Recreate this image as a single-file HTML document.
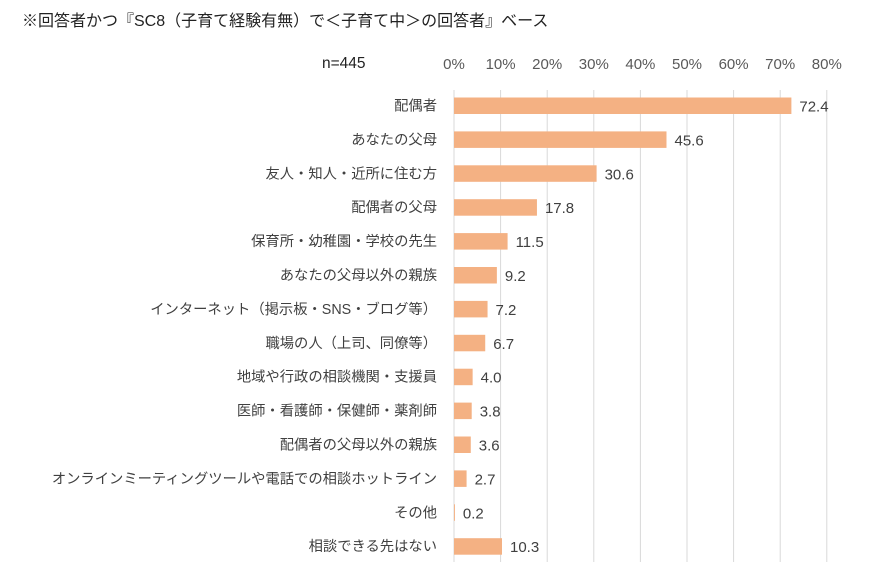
<!DOCTYPE html>
<html><head><meta charset="utf-8"><style>
body{margin:0;background:#fff;width:876px;height:576px;overflow:hidden;font-family:"Liberation Sans","Noto Sans CJK JP",sans-serif;color:#404040}
svg text{font-family:"Liberation Sans","Noto Sans CJK JP",sans-serif}
</style></head><body>
<svg width="876" height="576" xmlns="http://www.w3.org/2000/svg">
<text x="22" y="26" font-size="16" fill="#222">※回答者かつ『SC8（子育て経験有無）で＜子育て中＞の回答者』ベース</text>
<text x="322" y="68" font-size="15.5" fill="#222">n=445</text>
<g stroke="#d9d9d9" stroke-width="1">
<line x1="454" y1="90" x2="454" y2="562"/><line x1="500.6" y1="90" x2="500.6" y2="562"/><line x1="547.2" y1="90" x2="547.2" y2="562"/><line x1="593.8" y1="90" x2="593.8" y2="562"/><line x1="640.4" y1="90" x2="640.4" y2="562"/><line x1="687" y1="90" x2="687" y2="562"/><line x1="733.6" y1="90" x2="733.6" y2="562"/><line x1="780.2" y1="90" x2="780.2" y2="562"/><line x1="826.8" y1="90" x2="826.8" y2="562"/>
</g>
<g font-size="15" fill="#595959" text-anchor="middle">
<text x="454" y="69">0%</text><text x="500.6" y="69">10%</text><text x="547.2" y="69">20%</text><text x="593.8" y="69">30%</text><text x="640.4" y="69">40%</text><text x="687" y="69">50%</text><text x="733.6" y="69">60%</text><text x="780.2" y="69">70%</text><text x="826.8" y="69">80%</text>
</g>
<g id="rows" font-size="14.3" fill="#404040"></g>
</svg>
<script>
var d=[["配偶者",72.4],["あなたの父母",45.6],["友人・知人・近所に住む方",30.6],["配偶者の父母",17.8],["保育所・幼稚園・学校の先生",11.5],["あなたの父母以外の親族",9.2],["インターネット（掲示板・SNS・ブログ等）",7.2],["職場の人（上司、同僚等）",6.7],["地域や行政の相談機関・支援員",4.0],["医師・看護師・保健師・薬剤師",3.8],["配偶者の父母以外の親族",3.6],["オンラインミーティングツールや電話での相談ホットライン",2.7],["その他",0.2],["相談できる先はない",10.3]];
var g=document.getElementById("rows"),s="";
d.forEach(function(r,i){var c=105.5+i*33.9,w=r[1]*4.66;
s+='<text x="437" y="'+(c+5)+'" text-anchor="end">'+r[0]+'</text>';
s+='<rect x="454" y="'+(c-8)+'" width="'+w+'" height="16.5" fill="#f4b183"/>';
s+='<text x="'+(454+w+8)+'" y="'+(c+6)+'" font-size="15">'+r[1].toFixed(1)+'</text>';});
g.innerHTML=s;
</script>
</body></html>
